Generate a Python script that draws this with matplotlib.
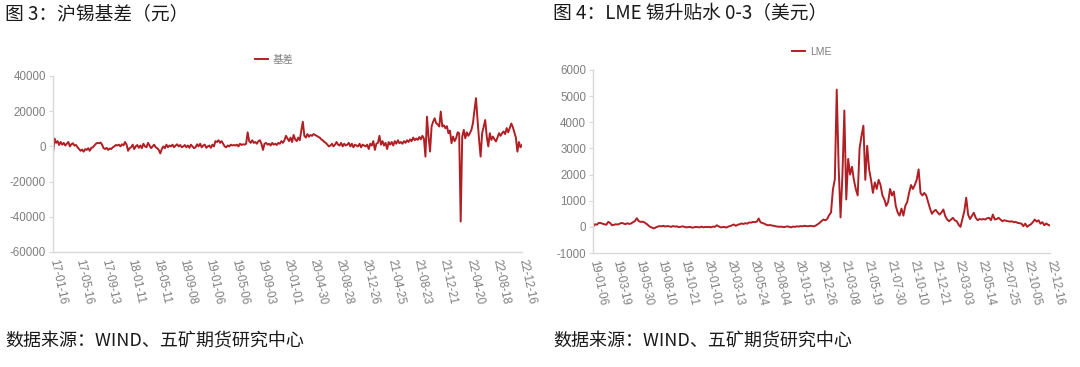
import matplotlib
matplotlib.use("Agg")
import matplotlib.pyplot as plt
import matplotlib.dates as mdates
import pandas as pd
import numpy as np

plt.rcParams['font.family'] = ['Noto Sans CJK SC', 'DejaVu Sans']
plt.rcParams['axes.unicode_minus'] = False

# ---------------- data ----------------
left_title = "图 3：沪锡基差（元）"
right_title = "图 4：LME 锡升贴水 0-3（美元）"
source_text = "数据来源：WIND、五矿期货研究中心"
left_legend = "基差"
right_legend = "LME"

left_start, left_end = "2017-01-16", "2022-12-16"
right_start, right_end = "2019-01-06", "2022-12-16"
left_tick_dates = pd.date_range(left_start, periods=19, freq="120D")
right_tick_dates = pd.date_range(right_start, periods=21, freq="72D")
left_yticks = [-60000, -40000, -20000, 0, 20000, 40000]
right_yticks = [-1000, 0, 1000, 2000, 3000, 4000, 5000, 6000]

# SHFE tin basis (yuan), ~7-day samples
basis_values = [
    -4000, 4500, 2000, 3000, 800, 2500, 1000, 2000, 500, 1500, 2500, 0, 1200, 1800, 500, 800, -500,
    -1500, -2500, -1800, -3000, -1500, -2000, -1000, -2500, -800, -500, 500, 1500, 2000, 1800, 2200, 1000, -1000,
    -1500, -800, -2000, -1200, -1500, -500, 0, 800, 500, 1000, 0, 1200, 600, 2500, 1000, -2500, -1000,
    -500, 1000, -1500, 0, 800, -800, 500, -1000, 1500, 0, -500, 2000, 500, -1000, 0, 1000, -500,
    -1000, -2000, -4000, -1500, 0, -1000, 1000, -500, 500, 0, 1000, -500, 500, 1200, 0, 800, -500,
    0, 800, -500, 500, -800, 1000, 0, -1000, -500, 1200, 0, 1500, -500, 500, 1000, -800, 0,
    500, -800, 1000, 0, 3000, 2500, 3500, 2000, 3000, 1500, 0, -500, 500, 0, 1000, 500, 800,
    500, 1000, 0, 1500, 800, 1200, 1000, 1500, 8000, 3000, 2000, 3500, 2000, 2500, 1500, 3000, 3500,
    1500, -2000, 1500, 2000, 1000, 1500, 500, 2000, 1000, 1500, 800, 2000, 1500, 3000, 2000, 3500, 6000,
    4500, 3000, 5000, 2500, 6500, 4000, 3000, 5000, 3500, 9000, 14000, 6000, 5000, 7000, 5500, 6500, 6000,
    7000, 6500, 6000, 5500, 5000, 4000, 3500, 2500, 2000, 1000, 0, 500, 1500, 0, 1000, 2500, 1000,
    500, 2000, 0, 1500, 500, 1000, 2000, 0, 1500, -500, 1000, 500, 0, 1500, -500, 1000, 500,
    0, 1000, -1500, 1500, 500, 3000, -2000, 1500, 2000, 6000, 1000, 3000, 500, 2000, -1500, 2500, 1000,
    2500, 500, 3000, 1500, 3500, 1800, 2500, 1500, 3000, 2000, 3500, 2500, 4000, 3000, 5000, 3500, 4500,
    3700, 5300, 4000, 6000, 4500, -5800, 16900, 5600, -2900, 11300, 14000, 16000, 13200, 12500, 11300, 19800, 11300,
    12000, 10300, 11500, 7500, 9000, 1800, 5600, 3000, 4600, 8000, 7500, -42700, 5600, 9400, 4600, 8000, 6000,
    7500, 9400, 13200, 20700, 27400, 15000, 3700, -5800, 7500, 11300, 15000, 5600, 0, 7500, 3700, 5600, 4000,
    2800, 5000, 7500, 6000, 7500, 8500, 7000, 10400, 8000, 10400, 13000, 11000, 8000, 5000, -3000, 2500, -500,
    800,
]

# LME tin cash-3M spread (USD), ~6-day samples
lme_values = [
    0, 100, 80, 150, 150, 120, 100, 80, 190, 150, 60, 80,
    100, 90, 120, 150, 130, 100, 140, 110, 130, 180, 220, 330,
    220, 190, 200, 170, 120, 60, 0, -30, -60, -20, 10, 30,
    20, 40, 10, 30, 20, 0, 30, 10, 20, -10, 0, 20,
    0, -20, -10, 0, -30, -20, 0, -10, -20, 10, -20, 0,
    -10, 0, -20, 10, 0, 60, 20, -20, -10, 0, -30, 10,
    30, 60, 90, 40, 80, 100, 130, 110, 140, 120, 170, 160,
    190, 180, 200, 320, 170, 150, 120, 80, 60, 70, 50, 40,
    20, 10, 0, 10, -10, 0, 20, 0, -20, 10, 0, 20,
    10, 30, 20, 40, 30, 20, 40, 30, 20, 50, 100, 150,
    220, 280, 250, 300, 450, 550, 1430, 1820, 5250, 2300, 360, 2000,
    4450, 1050, 2600, 2000, 2300, 1800, 1450, 1200, 3000, 3480, 3870, 1800,
    3100, 2200, 1800, 1300, 1700, 1450, 1800, 1600, 1200, 1050, 800, 950,
    1450, 1200, 1350, 800, 550, 430, 700, 430, 800, 950, 1300, 1600,
    1450, 1600, 1800, 2200, 1300, 1200, 1300, 1200, 950, 700, 500, 600,
    650, 550, 470, 550, 665, 410, 280, 215, 280, 345, 250, 215,
    80, 0, 300, 600, 1115, 470, 300, 420, 540, 345, 255, 300,
    280, 300, 280, 330, 345, 255, 470, 280, 300, 345, 280, 215,
    255, 230, 215, 200, 215, 175, 190, 150, 140, 125, 25, 125,
    0, 60, 100, 180, 280, 200, 250, 120, 180, 60, 130, 80,
    50,
]

# ---------------- style ----------------
W, H = 1080, 367
LINE_COLOR = "#B01F24"
TICK_COLOR = "#7f7f7f"
SPINE_COLOR = "#d9d9d9"
TICK_FONT = ["Liberation Sans", "DejaVu Sans"]

fig = plt.figure(figsize=(W / 100, H / 100), dpi=100)


def px_axes(x0, x1, ytop, ybot):
    return fig.add_axes([x0 / W, 1 - ybot / H, (x1 - x0) / W, (ybot - ytop) / H])


def style(ax, ticks, yticks):
    ax.set_yticks(yticks)
    ax.set_ylim(yticks[0], yticks[-1])
    ax.set_xticks(ticks)
    ax.xaxis.set_major_formatter(mdates.DateFormatter("%y-%m-%d"))
    for s in ["top", "right"]:
        ax.spines[s].set_visible(False)
    for s in ["left", "bottom"]:
        ax.spines[s].set_color(SPINE_COLOR)
        ax.spines[s].set_linewidth(1.0)
    ax.tick_params(axis="y", length=3, color=SPINE_COLOR, labelcolor=TICK_COLOR,
                   labelsize=8.3, pad=2)
    ax.tick_params(axis="x", length=0, labelcolor=TICK_COLOR, labelsize=8.3, pad=5)
    for lab in ax.get_yticklabels():
        lab.set_fontfamily(TICK_FONT)
    for lab in ax.get_xticklabels():
        lab.set_fontfamily(TICK_FONT)
        lab.set_rotation(-78)
        lab.set_rotation_mode("anchor")
        lab.set_ha("left")
        lab.set_va("center")


# left chart
axL = px_axes(53, 522, 76, 252)
xL = pd.date_range(left_start, left_end, periods=len(basis_values))
axL.plot(xL, basis_values, color=LINE_COLOR, lw=1.4, label=left_legend)
axL.set_xlim(pd.Timestamp(left_start), pd.Timestamp(left_end))
style(axL, left_tick_dates, left_yticks)
axL.legend(loc="lower center", bbox_to_anchor=(0.472, 1.04), frameon=False,
           fontsize=7.5, labelcolor=TICK_COLOR, handlelength=1.2, handletextpad=0.5,
           borderaxespad=0)

# right chart
axR = px_axes(593, 1050, 70, 253)
xR = pd.date_range(right_start, right_end, periods=len(lme_values))
axR.plot(xR, lme_values, color=LINE_COLOR, lw=1.4, label=right_legend)
axR.set_xlim(pd.Timestamp(right_start), pd.Timestamp(right_end))
style(axR, right_tick_dates, right_yticks)
axR.legend(loc="lower center", bbox_to_anchor=(0.479, 1.05), frameon=False,
           fontsize=7.5, labelcolor=TICK_COLOR, handlelength=1.2, handletextpad=0.5,
           borderaxespad=0)
for t in axR.get_legend().get_texts():
    t.set_fontfamily(TICK_FONT)

# titles and sources
TXT = "#1a1a1a"
fig.text(5 / W, 1 - 14 / H, left_title, fontsize=13.5, va="center", ha="left", color=TXT)
fig.text(553 / W, 1 - 14 / H, right_title, fontsize=13.5, va="center", ha="left", color=TXT)
fig.text(5 / W, 1 - 341 / H, source_text, fontsize=13, va="center", ha="left", color=TXT)
fig.text(553 / W, 1 - 341 / H, source_text, fontsize=13, va="center", ha="left", color=TXT)

fig.savefig("out.png", dpi=100)
